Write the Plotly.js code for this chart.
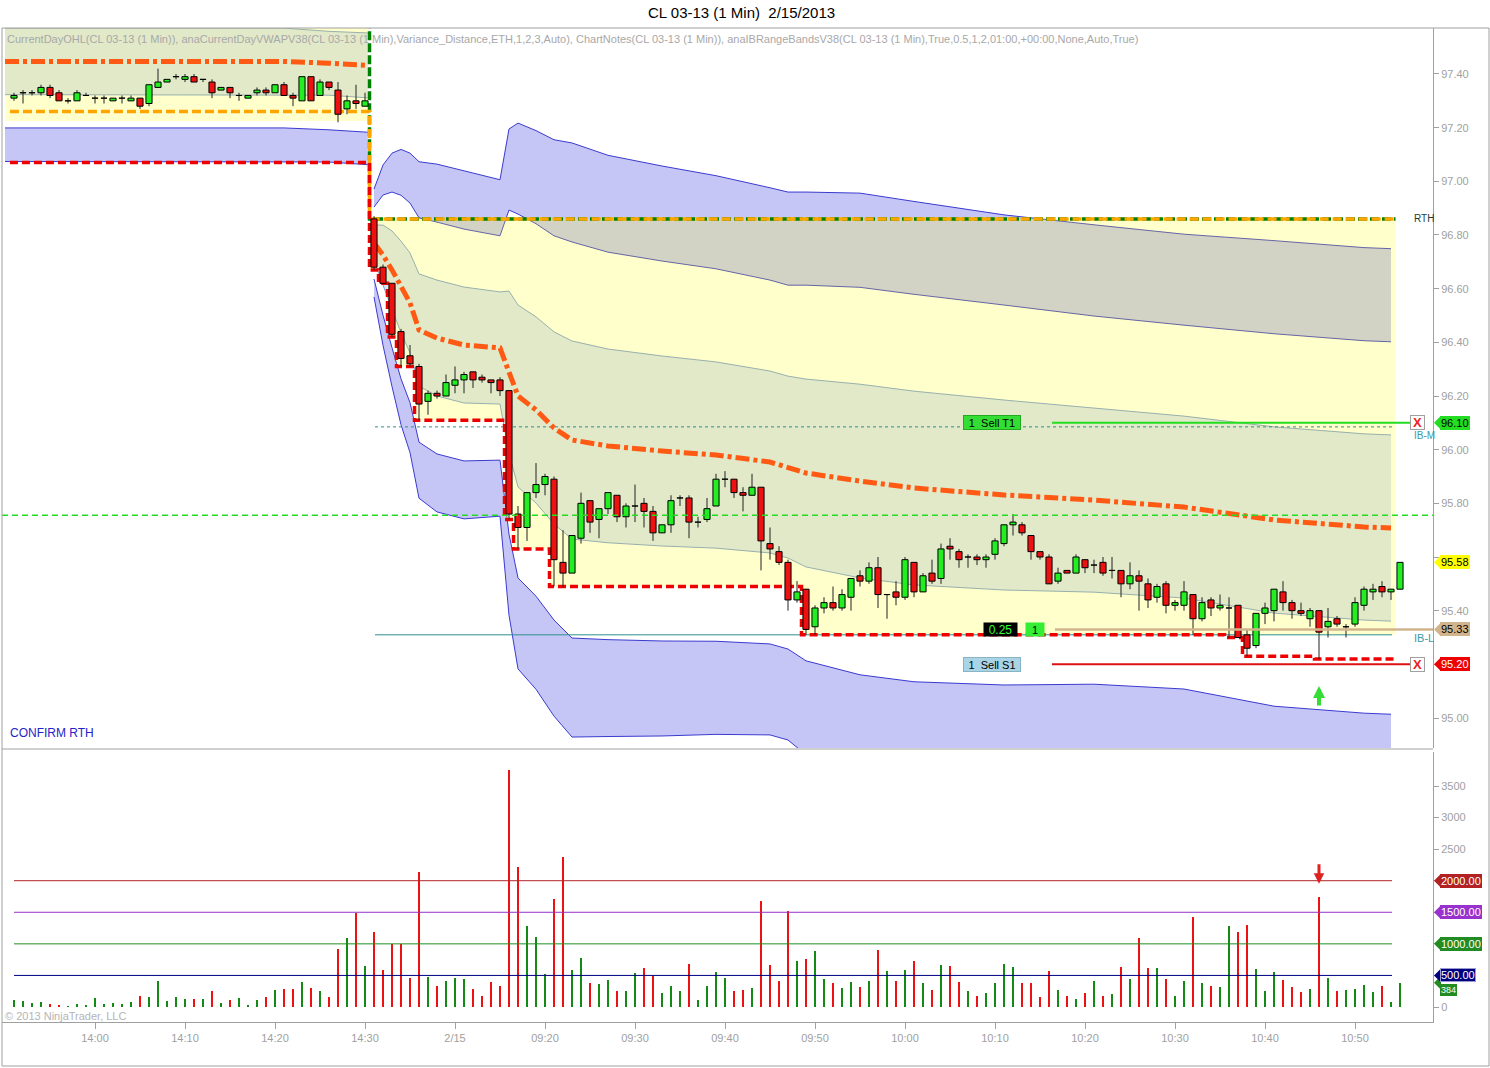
<!DOCTYPE html>
<html><head><meta charset="utf-8">
<script src="https://cdn.plot.ly/plotly-3.0.1.min.js"></script>
<style>html,body{margin:0;padding:0;background:#fff;}#chart{width:1490px;height:1068px;}</style>
</head><body><div id="chart"></div>
<script>
// ---------------- DATA ----------------
const tickIdx = [9,19,29,39,49,59,69,79,89,99,109,119,129,139,149];
const tickLabels = ['14:00','14:10','14:20','14:30','2/15','09:20','09:30','09:40','09:50','10:00','10:10','10:20','10:30','10:40','10:50'];
const priceTicks = [95.0,95.2,95.4,95.6,95.8,96.0,96.2,96.4,96.6,96.8,97.0,97.2,97.4];
const priceTickHidden = [95.6];              // covered by the last-price tag in the reference
const volTicks = [0,500,1000,1500,2000,2500,3000,3500];
const volTickHidden = [500,1000,1500,2000];  // covered by the level tags in the reference

const open = [97.31,97.33,97.33,97.33,97.35,97.33,97.30,97.30,97.32,97.31,97.31,97.30,97.31,97.30,97.31,97.29,97.35,97.37,97.39,97.38,
97.39,97.38,97.37,97.34,97.35,97.32,97.31,97.33,97.34,97.33,97.36,97.32,97.30,97.39,97.32,97.37,97.34,97.27,97.30,97.28,
96.86,96.68,96.62,96.44,96.35,96.31,96.18,96.21,96.20,96.24,96.26,96.29,96.27,96.26,96.26,96.22,95.76,95.71,95.84,95.87,
95.89,95.58,95.54,95.67,95.81,95.74,95.78,95.83,95.75,95.79,95.80,95.77,95.69,95.72,95.82,95.82,95.73,95.74,95.79,95.89,
95.89,95.84,95.83,95.86,95.65,95.62,95.58,95.44,95.48,95.34,95.41,95.43,95.41,95.45,95.53,95.51,95.56,95.46,95.47,95.45,
95.58,95.47,95.54,95.52,95.64,95.62,95.60,95.60,95.59,95.61,95.65,95.72,95.72,95.68,95.62,95.60,95.51,95.55,95.54,95.59,
95.57,95.58,95.55,95.55,95.50,95.53,95.50,95.45,95.50,95.42,95.42,95.46,95.37,95.44,95.41,95.41,95.42,95.31,95.27,95.39,
95.40,95.47,95.43,95.40,95.37,95.40,95.34,95.37,95.34,95.35,95.42,95.47,95.49,95.47,95.48];
const high = [97.33,97.34,97.34,97.36,97.36,97.34,97.31,97.34,97.33,97.32,97.32,97.31,97.32,97.32,97.31,97.36,97.42,97.38,97.40,97.40,
97.40,97.38,97.38,97.35,97.35,97.33,97.32,97.35,97.35,97.36,97.37,97.33,97.39,97.39,97.38,97.37,97.37,97.32,97.36,97.33,
96.87,96.69,96.62,96.45,96.39,96.32,96.22,96.22,96.28,96.31,96.29,96.29,96.28,96.26,96.27,96.22,95.79,95.84,95.95,95.91,
95.90,95.70,95.68,95.84,95.81,95.78,95.84,95.83,95.80,95.87,95.82,95.79,95.72,95.83,95.83,95.83,95.75,95.82,95.91,95.92,
95.89,95.86,95.91,95.86,95.71,95.64,95.59,95.51,95.48,95.42,95.45,95.49,95.48,95.52,95.55,95.58,95.60,95.46,95.51,95.60,
95.58,95.54,95.59,95.65,95.67,95.63,95.61,95.61,95.61,95.67,95.72,95.76,95.73,95.68,95.62,95.61,95.56,95.55,95.61,95.59,
95.59,95.60,95.60,95.55,95.58,95.55,95.52,95.50,95.51,95.44,95.51,95.46,95.45,95.45,95.46,95.45,95.42,95.33,95.39,95.43,
95.48,95.51,95.44,95.43,95.41,95.40,95.41,95.38,95.35,95.45,95.49,95.50,95.51,95.48,95.58];
const low = [97.30,97.29,97.32,97.32,97.31,97.30,97.29,97.30,97.32,97.29,97.29,97.30,97.29,97.30,97.27,97.28,97.35,97.37,97.38,97.37,
97.37,97.37,97.31,97.34,97.31,97.30,97.31,97.32,97.32,97.33,97.32,97.28,97.30,97.30,97.32,97.34,97.22,97.25,97.27,97.28,
96.67,96.62,96.42,96.31,96.31,96.11,96.13,96.19,96.20,96.21,96.21,96.23,96.25,96.21,96.20,95.74,95.63,95.66,95.82,95.83,
95.49,95.49,95.54,95.65,95.69,95.67,95.76,95.73,95.71,95.73,95.71,95.66,95.69,95.69,95.79,95.67,95.71,95.73,95.79,95.86,
95.82,95.77,95.83,95.55,95.59,95.57,95.40,95.43,95.31,95.31,95.39,95.40,95.40,95.40,95.49,95.50,95.41,95.37,95.42,95.44,
95.45,95.47,95.50,95.50,95.59,95.56,95.56,95.57,95.56,95.59,95.64,95.68,95.68,95.59,95.59,95.50,95.50,95.54,95.54,95.54,
95.54,95.53,95.52,95.45,95.48,95.40,95.41,95.43,95.39,95.40,95.40,95.31,95.36,95.38,95.40,95.30,95.30,95.23,95.26,95.35,
95.36,95.40,95.37,95.38,95.34,95.22,95.30,95.34,95.30,95.34,95.40,95.44,95.45,95.44,95.48];
const close = [97.32,97.33,97.33,97.35,97.32,97.30,97.30,97.33,97.32,97.31,97.31,97.31,97.31,97.31,97.28,97.36,97.37,97.38,97.39,97.39,
97.37,97.38,97.33,97.35,97.33,97.32,97.32,97.34,97.33,97.36,97.32,97.31,97.39,97.30,97.37,97.35,97.25,97.30,97.29,97.30,
96.68,96.62,96.43,96.34,96.32,96.17,96.21,96.20,96.25,96.26,96.28,96.26,96.26,96.25,96.22,95.76,95.71,95.84,95.87,95.90,
95.59,95.54,95.68,95.80,95.73,95.78,95.84,95.75,95.79,95.79,95.77,95.69,95.72,95.81,95.82,95.73,95.73,95.78,95.89,95.89,
95.84,95.83,95.86,95.66,95.63,95.58,95.44,95.47,95.33,95.41,95.43,95.41,95.46,95.52,95.51,95.56,95.46,95.46,95.45,95.59,
95.47,95.53,95.51,95.63,95.63,95.59,95.60,95.59,95.60,95.66,95.72,95.73,95.69,95.62,95.60,95.50,95.54,95.54,95.60,95.56,
95.57,95.54,95.55,95.50,95.53,95.51,95.44,95.49,95.42,95.43,95.47,95.37,95.43,95.41,95.42,95.41,95.30,95.26,95.39,95.41,
95.48,95.43,95.40,95.39,95.40,95.32,95.36,95.35,95.34,95.43,95.48,95.48,95.47,95.48,95.58];
const volume = [111,95,63,79,42,32,16,48,32,148,53,63,53,79,174,164,412,95,164,132,
132,132,253,63,116,148,32,116,158,275,290,290,396,306,253,158,924,1098,1494,649,
1193,591,993,993,465,2144,480,333,412,459,449,290,174,396,333,3754,2218,1283,1109,517,
1716,2376,586,776,380,364,428,253,253,539,618,486,222,333,253,681,111,333,554,459,
253,269,301,1679,665,412,1521,729,760,887,444,380,301,396,317,412,903,570,412,586,
729,380,269,665,649,396,253,174,216,375,676,628,375,375,158,570,269,174,121,216,
407,174,201,634,438,1088,618,618,438,174,407,1420,375,333,317,1278,1188,1294,602,248,
549,428,317,238,285,1737,459,253,269,285,348,238,333,79,384];

// VWAP and deviation bands (today), sampled at bar indices
const bandIdx = [40,41,42,43,44,45,47,50,54,55,56,58,60,62,66,72,78,84,86,88,94,100,110,120,130,140,150,153];
const vwap   = [96.770,96.725,96.670,96.606,96.547,96.446,96.416,96.390,96.379,96.289,96.200,96.148,96.081,96.036,96.014,95.995,95.980,95.954,95.935,95.913,95.883,95.857,95.831,95.812,95.786,95.738,95.712,95.708];
const upper1 = [96.837,96.837,96.815,96.777,96.733,96.655,96.632,96.606,96.588,96.591,96.539,96.495,96.439,96.405,96.375,96.349,96.327,96.293,96.274,96.263,96.244,96.218,96.185,96.155,96.125,96.085,96.059,96.055];
const upper2 = [96.904,96.949,96.960,96.948,96.919,96.864,96.848,96.822,96.797,96.893,96.878,96.842,96.797,96.774,96.736,96.703,96.674,96.632,96.613,96.613,96.605,96.579,96.539,96.498,96.464,96.432,96.406,96.402];
const upper3 = [96.971,97.061,97.105,97.119,97.105,97.073,97.064,97.038,97.006,97.195,97.217,97.189,97.155,97.143,97.097,97.057,97.021,96.976,96.960,96.960,96.956,96.925,96.875,96.838,96.803,96.779,96.753,96.749];
const lower1 = [96.703,96.613,96.525,96.435,96.361,96.237,96.200,96.174,96.170,95.987,95.861,95.801,95.723,95.667,95.653,95.641,95.633,95.615,95.596,95.563,95.522,95.496,95.477,95.469,95.447,95.391,95.365,95.361];
const lower2 = [96.636,96.501,96.380,96.264,96.175,96.028,95.984,95.958,95.961,95.685,95.522,95.454,95.365,95.298,95.292,95.287,95.286,95.276,95.257,95.213,95.161,95.135,95.123,95.126,95.108,95.044,95.018,95.014];
const lower3 = [96.569,96.389,96.235,96.093,95.989,95.819,95.768,95.742,95.752,95.383,95.183,95.107,95.007,94.929,94.931,94.933,94.939,94.937,94.918,94.863,94.800,94.774,94.769,94.783,94.769,94.697,94.671,94.667];

// prior session VWAP / bands
const pdIdx = [-1,30,35,39.3];
const pdVwap   = [97.447,97.447,97.440,97.432];
const pdUpper1 = [97.571,97.571,97.559,97.553];
const pdLower1 = [97.323,97.323,97.321,97.311];
const pdLower2 = [97.199,97.199,97.192,97.183];
const pdLower3 = [97.074,97.074,97.072,97.062];
const pdIbRange = [97.60, 97.225];

// CurrentDayOHL step lines
const ohlX = [-0.45,39.5,153.5];
const openLevels = [97.26,96.86,96.86];
const highLevels = [97.65,96.86,96.86];
const lowStepX = [-0.45,39.5,40.5,41.5,42.5,44.5,54.5,55.5,59.5,87.5,134.5,136.5,144.5,153.5];
const lowStepY = [97.07,96.67,96.62,96.42,96.31,96.11,95.74,95.63,95.49,95.31,95.30,95.23,95.22,95.22];
// Initial balance
const ibStepX = [39.5,40.5,41.5,42.5,44.5,54.5,55.5,59.5,87.5,153.5];
const ibStepY = [96.67,96.62,96.42,96.31,96.11,95.74,95.63,95.49,95.31,95.31];
const ibHigh = 96.86, ibMid = 96.085, ibLow = 95.31;
// Other levels
const noteLevel = 95.756;
const target1 = 96.10, stop1 = 95.20, entryLevel = 95.33, lastPrice = 95.58;
const volLevels = [2000,1500,1000,500];
const volLevelColors = ['#B22222','#9932CC','#228B22','#000080'];
const lastVolume = 384;

// ---------------- helpers (layout only) ----------------
const pxX = px => (px - 2) / 1431;        // pixel -> paper x
const pxY = py => (1022 - py) / 994;      // pixel -> paper y
const idxOf = px => (px - 14) / 9;        // pixel -> bar index
const bar = open.map((_, i) => i);
const HALF = 0.34;                        // half body width in bar units

const LAV = '#C6C6F6', LBLUE = '#D9E3FA', YEL = 'rgba(255,255,23,0.22)';
const B23 = '#3A3AD0', B1 = '#7C9AD8';
function ln(x, y, color, width, dash, extra) {
  return Object.assign({type:'scatter', mode:'lines', x, y, xaxis:'x', yaxis:'y', hoverinfo:'skip',
    line:{color, width, dash: dash || 'solid'}}, extra || {});
}
function flat(v, n) { return Array(n).fill(v); }

// candles drawn as scatter paths (so that they sit above the band fills)
const wickX = [], wickY = [], upX = [], upY = [], dnX = [], dnY = [];
bar.forEach(i => {
  wickX.push(i, i, null); wickY.push(low[i], high[i], null);
  const o = open[i], c = close[i];
  const bx = [i-HALF, i+HALF, i+HALF, i-HALF, i-HALF, null], by = [o, o, c, c, o, null];
  if (c >= o) { upX.push(...bx); upY.push(...by); } else { dnX.push(...bx); dnY.push(...by); }
});

const traces = [];
// prior-day bands
traces.push(ln(pdIdx, pdLower2, B23, 1));
traces.push(ln(pdIdx, pdLower3, B23, 1, null, {fill:'tonexty', fillcolor:LAV}));
traces.push(ln(pdIdx, pdLower1, B1, 1));
traces.push(ln(pdIdx, pdUpper1, B1, 1, null, {fill:'tonexty', fillcolor:LBLUE}));
// today bands
traces.push(ln(bandIdx, upper2, B23, 1));
traces.push(ln(bandIdx, upper3, B23, 1, null, {fill:'tonexty', fillcolor:LAV}));
traces.push(ln(bandIdx, lower2, B23, 1));
traces.push(ln(bandIdx, lower3, B23, 1, null, {fill:'tonexty', fillcolor:LAV}));
traces.push(ln(bandIdx, lower1, B1, 1));
traces.push(ln(bandIdx, upper1, B1, 1, null, {fill:'tonexty', fillcolor:LBLUE}));
// IB yellow overlays
traces.push(ln([-1,39.3], flat(pdIbRange[1],2), 'rgba(0,0,0,0)', 0));
traces.push(ln([-1,39.3], flat(pdIbRange[0],2), 'rgba(0,0,0,0)', 0, null, {fill:'tonexty', fillcolor:YEL}));
traces.push(ln(ibStepX, ibStepY, 'rgba(0,0,0,0)', 0, null, {line:{shape:'hv', width:0, color:'rgba(0,0,0,0)'}}));
traces.push(ln([39.5,153.5], flat(ibHigh,2), 'rgba(0,0,0,0)', 0, null, {fill:'tonexty', fillcolor:YEL}));
// IB mid / low lines
traces.push(ln([idxOf(375), idxOf(1392)], flat(ibMid,2), '#2F8F8F', 1, 'dot'));
traces.push(ln([idxOf(375), idxOf(1392)], flat(ibLow,2), '#2F8F8F', 1));
// OHL
traces.push(ln(ohlX, highLevels, '#008000', 3.5, null, {line:{shape:'hv', color:'#008000', width:3.5, dash:'9px,3px'}}));
traces.push(ln(ohlX, openLevels, '#FFA500', 3.5, null, {line:{shape:'hv', color:'#FFA500', width:3.5, dash:'9px,4px'}}));
traces.push(ln(lowStepX, lowStepY, '#EE0000', 3.5, null, {line:{shape:'hv', color:'#EE0000', width:3.5, dash:'8px,4px'}}));
// VWAP dash-dot
traces.push(ln(pdIdx, pdVwap, '#FF5A14', 5, '14px,4px,4px,4px'));
traces.push(ln(bandIdx, vwap, '#FF5A14', 5, '14px,4px,4px,4px'));
// candles
traces.push(ln(wickX, wickY, '#222', 1));
traces.push(ln(upX, upY, '#000', 1, null, {fill:'toself', fillcolor:'#22EE22'}));
traces.push(ln(dnX, dnY, '#000', 1, null, {fill:'toself', fillcolor:'#EE1111'}));
// chart-note level
traces.push(ln([idxOf(2), idxOf(1433)], flat(noteLevel,2), '#22DD22', 1.5, '6px,4px'));
// order lines
traces.push(ln([idxOf(1052), idxOf(1418)], flat(target1,2), '#22DD22', 2));
traces.push(ln([idxOf(1052), idxOf(1418)], flat(stop1,2), '#DD1111', 2));
traces.push(ln([idxOf(1055), idxOf(1433)], flat(entryLevel,2), '#D2B48C', 2.5));
// volume
traces.push({type:'bar', x:bar, y:volume, xaxis:'x', yaxis:'y2', width:0.33, hoverinfo:'skip',
  marker:{color: close.map((c, i) => c >= open[i] ? '#138A13' : '#EE1111'), line:{width:0}}});
volLevels.forEach((v, k) => traces.push(ln([0, idxOf(1392)], flat(v,2), volLevelColors[k], 1, null, {yaxis:'y2'})));

// ---------------- annotations & shapes ----------------
const FONT = '"Liberation Sans", Arial, sans-serif';
const ann = [], shp = [];
ann.push({xref:'paper', yref:'paper', x:pxX(5), y:pxY(39), xanchor:'left', yanchor:'middle', showarrow:false,
  text:'CurrentDayOHL(CL 03-13 (1 Min)), anaCurrentDayVWAPV38(CL 03-13 (1 Min),Variance_Distance,ETH,1,2,3,Auto), ChartNotes(CL 03-13 (1 Min)), anaIBRangeBandsV38(CL 03-13 (1 Min),True,0.5,1,2,01:00,+00:00,None,Auto,True)',
  font:{size:11, color:'#A8A8A8'}});
ann.push({xref:'paper', yref:'paper', x:pxX(8), y:pxY(733), xanchor:'left', yanchor:'middle', showarrow:false,
  text:'CONFIRM RTH', font:{size:12, color:'#2424C8'}});
ann.push({xref:'paper', yref:'paper', x:pxX(3), y:pxY(1016), xanchor:'left', yanchor:'middle', showarrow:false,
  text:'© 2013 NinjaTrader, LLC', font:{size:11, color:'#B4B4B4'}});
ann.push({xref:'paper', yref:'y', x:pxX(1412), y:ibHigh, xanchor:'left', yanchor:'middle', showarrow:false, text:'RTH', font:{size:10, color:'#223B3B'}});
ann.push({xref:'paper', yref:'y', x:pxX(1412), y:ibMid, yshift:-9, xanchor:'left', yanchor:'middle', showarrow:false, text:'IB-M', font:{size:10, color:'#3B9AA8'}});
ann.push({xref:'paper', yref:'y', x:pxX(1412), y:ibLow, yshift:-3, xanchor:'left', yanchor:'middle', showarrow:false, text:'IB-L', font:{size:11, color:'#3B9AA8'}});
// order labels
ann.push({xref:'paper', yref:'y', x:pxX(1021), y:target1, showarrow:false, text:'1 &nbsp;Sell T1', width:56, height:13,
  bgcolor:'#33DD33', bordercolor:'#22AA22', borderwidth:1, borderpad:0, font:{size:11, color:'#000'}});
ann.push({xref:'paper', yref:'y', x:pxX(1021), y:stop1, showarrow:false, text:'1 &nbsp;Sell S1', width:56, height:13,
  bgcolor:'#A8D4E6', bordercolor:'#88B4C6', borderwidth:1, borderpad:0, font:{size:11, color:'#000'}});
ann.push({xref:'paper', yref:'y', x:pxX(1018), y:entryLevel, showarrow:false, text:'0.25', width:33, height:13,
  bgcolor:'#000000', borderpad:0, font:{size:12, color:'#33FF33'}});
ann.push({xref:'paper', yref:'y', x:pxX(1045), y:entryLevel, showarrow:false, text:'1', width:18, height:13,
  bgcolor:'#33EE33', borderpad:0, font:{size:11, color:'#000'}});
[target1, stop1].forEach(v => ann.push({xref:'paper', yref:'y', x:pxX(1425), y:v, showarrow:false, text:'<b>X</b>',
  width:13, height:13, bgcolor:'#FFFFFF', bordercolor:'#A0A0A0', borderwidth:1, borderpad:0, font:{size:13, color:'#EE2222'}}));
// arrows
ann.push({xref:'x', yref:'y', x:145, y:95.119, ax:0, ay:21, showarrow:true, arrowhead:2, arrowsize:0.6, arrowwidth:4, arrowcolor:'#33DD33', text:''});
ann.push({xref:'x', yref:'y2', x:145, y:1950, ax:0, ay:-21, showarrow:true, arrowhead:2, arrowsize:0.7, arrowwidth:3, arrowcolor:'#DD2222', text:''});

function tag(axis, val, text, bg, fg, halfH, bc, fs, ys) {
  const yPad = (ys || 0);
  shp.push({type:'path', xref:'paper', yref:axis, layer:'above',
    path:`M ${pxX(1434)},${val} L ${pxX(1441)},${val+halfH} L ${pxX(1441)},${val-halfH} Z`, fillcolor:bg, line:{width:0}});
  ann.push({xref:'paper', x:1, xanchor:'left', xshift:7, yref:axis, y:val, yshift:yPad, yanchor:'middle', text, showarrow:false,
    bgcolor:bg, bordercolor:bc || bg, borderwidth:1, borderpad:0, font:{size:fs || 11, color:fg}});
}
const hp = 7/268.33, hv = 7/0.063143;
tag('y', target1, target1.toFixed(2), '#22DD22', '#000', hp);
tag('y', lastPrice, lastPrice.toFixed(2), '#FFFF00', '#000', hp);
tag('y', entryLevel, entryLevel.toFixed(2), '#D2B48C', '#000', hp);
tag('y', stop1, stop1.toFixed(2), '#EE0000', '#FFF', hp);
tag('y2', lastVolume, String(lastVolume), '#228B22', '#FFF', hv, null, 9, -7);
tag('y2', 2000, '2000.00', '#B22222', '#FFF', hv);
tag('y2', 1500, '1500.00', '#9932CC', '#FFF', hv);
tag('y2', 1000, '1000.00', '#228B22', '#FFF', hv);
tag('y2', 500, '500.00', '#000080', '#FFF', hv, '#9A9AD0');

// frame lines
const G = '#A0A0A0';
shp.push({type:'line', xref:'paper', yref:'paper', x0:pxX(2), x1:pxX(1489), y0:pxY(28), y1:pxY(28), line:{color:G, width:1}});
shp.push({type:'line', xref:'paper', yref:'paper', x0:pxX(2), x1:pxX(1433), y0:pxY(749), y1:pxY(749), line:{color:G, width:1}});
shp.push({type:'line', xref:'paper', yref:'paper', x0:pxX(2), x1:pxX(2), y0:pxY(28), y1:pxY(1066), line:{color:G, width:1}});
shp.push({type:'line', xref:'paper', yref:'paper', x0:pxX(2), x1:pxX(1489), y0:pxY(1066), y1:pxY(1066), line:{color:G, width:1}});
shp.push({type:'line', xref:'paper', yref:'paper', x0:pxX(1489), x1:pxX(1489), y0:pxY(28), y1:pxY(1066), line:{color:G, width:1}});

const layout = {
  width:1490, height:1068, margin:{l:2, r:57, t:28, b:46}, paper_bgcolor:'#fff', plot_bgcolor:'#fff',
  showlegend:false, bargap:0, hovermode:false,
  font:{family:FONT, size:11, color:'#A0A0A0'},
  title:{text:'CL 03-13 (1 Min)\u00a0\u00a02/15/2013', x:0.4977, xref:'container', y:1-13/1068, yref:'container',
    xanchor:'center', yanchor:'middle', font:{size:15, color:'#000', family:FONT}},
  xaxis:{range:[idxOf(2), idxOf(1433)], anchor:'y2', tickmode:'array', tickvals:tickIdx, ticktext:tickLabels,
    ticks:'outside', ticklen:6, tickcolor:G, showgrid:false, zeroline:false, showline:true, linecolor:G,
    tickfont:{size:11, color:'#A0A0A0'}},
  yaxis:{domain:[(1022-748)/994, 1], range:[94.8882, 97.5714], side:'right', anchor:'x', tickmode:'array',
    tickvals:priceTicks, ticktext:priceTicks.map(v => priceTickHidden.includes(v) ? '' : v.toFixed(2)),
    ticks:'outside', ticklen:5, tickcolor:G,
    showline:true, linecolor:G, showgrid:false, zeroline:false, tickfont:{size:11, color:'#A0A0A0'}},
  yaxis2:{domain:[0, (1022-752)/994], range:[-237.6, 4038.4], side:'right', anchor:'x', tickmode:'array',
    tickvals:volTicks, ticktext:volTicks.map(v => volTickHidden.includes(v) ? '' : String(v)),
    ticks:'outside', ticklen:5, tickcolor:G,
    showline:true, linecolor:G, showgrid:false, zeroline:false, tickfont:{size:11, color:'#A0A0A0'}},
  annotations:ann, shapes:shp
};
Plotly.newPlot('chart', traces, layout, {staticPlot:true, displayModeBar:false});
</script></body></html>
